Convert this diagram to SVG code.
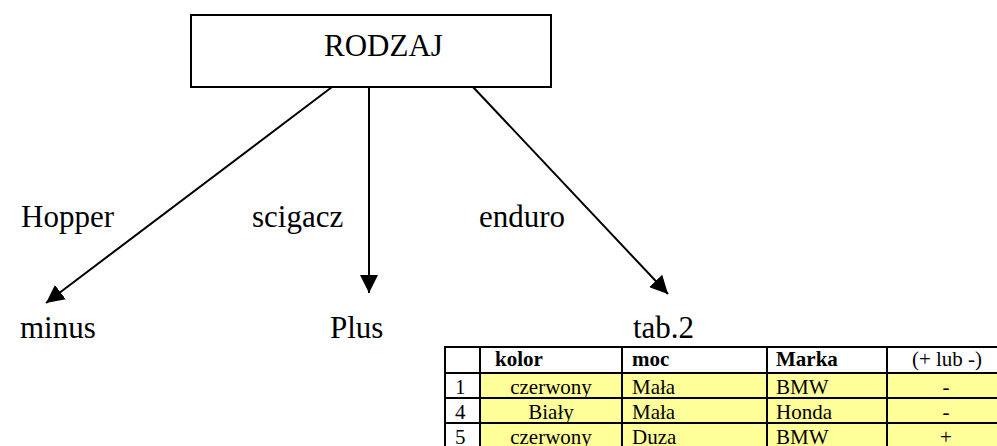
<svg xmlns="http://www.w3.org/2000/svg" width="997" height="446" viewBox="0 0 997 446">
<style>
.t{font-family:"Liberation Serif","Times New Roman",serif;font-size:31px;fill:#000}
.c{font-family:"Liberation Serif","Times New Roman",serif;font-size:21px;fill:#000}
.b{font-weight:bold}
.m{text-anchor:middle}
.ln{stroke:#000;stroke-width:2;fill:none}
.y{fill:#FFFF99}
</style>
<defs>
<marker id="ah" markerUnits="userSpaceOnUse" markerWidth="18" markerHeight="18" viewBox="0 0 16 16" refX="16" refY="8" orient="auto">
<path d="M0,0 L16,8 L0,16 Z" fill="#000"/>
</marker>
</defs>
<rect width="997" height="446" fill="#fff"/>
<g id="rodzaj">
<rect x="191" y="15" width="360" height="72" fill="#fff" stroke="#000" stroke-width="2"/>
<text class="t" x="324" y="56">RODZAJ</text>
</g>
<g id="connectors">
<line class="ln" x1="332" y1="87" x2="46" y2="303" marker-end="url(#ah)"/>
<line class="ln" x1="369" y1="87" x2="369" y2="293" marker-end="url(#ah)"/>
<line class="ln" x1="473" y1="87" x2="668" y2="294" marker-end="url(#ah)"/>
</g>
<g id="labels">
<text class="t" x="21" y="227">Hopper</text>
<text class="t" x="252" y="227">scigacz</text>
<text class="t" x="479" y="227">enduro</text>
</g>
<g id="minus"><text class="t" x="20" y="338">minus</text></g>
<g id="plus"><text class="t" x="330" y="338">Plus</text></g>
<g id="tab2">
<text class="t" x="633" y="338">tab.2</text>
<rect class="y" x="480" y="373" width="530" height="80"/>
<g class="ln">
<line x1="444" y1="347" x2="1010" y2="347"/>
<line x1="444" y1="373" x2="1010" y2="373"/>
<line x1="444" y1="398" x2="1010" y2="398"/>
<line x1="444" y1="423" x2="1010" y2="423"/>
<line x1="444" y1="448" x2="1010" y2="448"/>
<line x1="445" y1="346" x2="445" y2="450"/>
<line x1="480" y1="346" x2="480" y2="450"/>
<line x1="622" y1="346" x2="622" y2="450"/>
<line x1="767" y1="346" x2="767" y2="450"/>
<line x1="887" y1="346" x2="887" y2="450"/>
<line x1="1006" y1="346" x2="1006" y2="450"/>
</g>
<text class="c b" x="495" y="366">kolor</text>
<text class="c b" x="632" y="366">moc</text>
<text class="c b" x="776" y="366">Marka</text>
<text class="c m" x="947" y="366">(+ lub -)</text>
<text class="c" x="455" y="394">1</text>
<text class="c m" x="551" y="394">czerwony</text>
<text class="c" x="632" y="394">Mała</text>
<text class="c" x="776" y="394">BMW</text>
<text class="c m" x="946" y="394">-</text>
<text class="c" x="455" y="419">4</text>
<text class="c m" x="551" y="419">Biały</text>
<text class="c" x="632" y="419">Mała</text>
<text class="c" x="776" y="419">Honda</text>
<text class="c m" x="946" y="419">-</text>
<text class="c" x="455" y="444">5</text>
<text class="c m" x="551" y="444">czerwony</text>
<text class="c" x="632" y="444">Duza</text>
<text class="c" x="776" y="444">BMW</text>
<text class="c m" x="946" y="444">+</text>
</g>
</svg>
